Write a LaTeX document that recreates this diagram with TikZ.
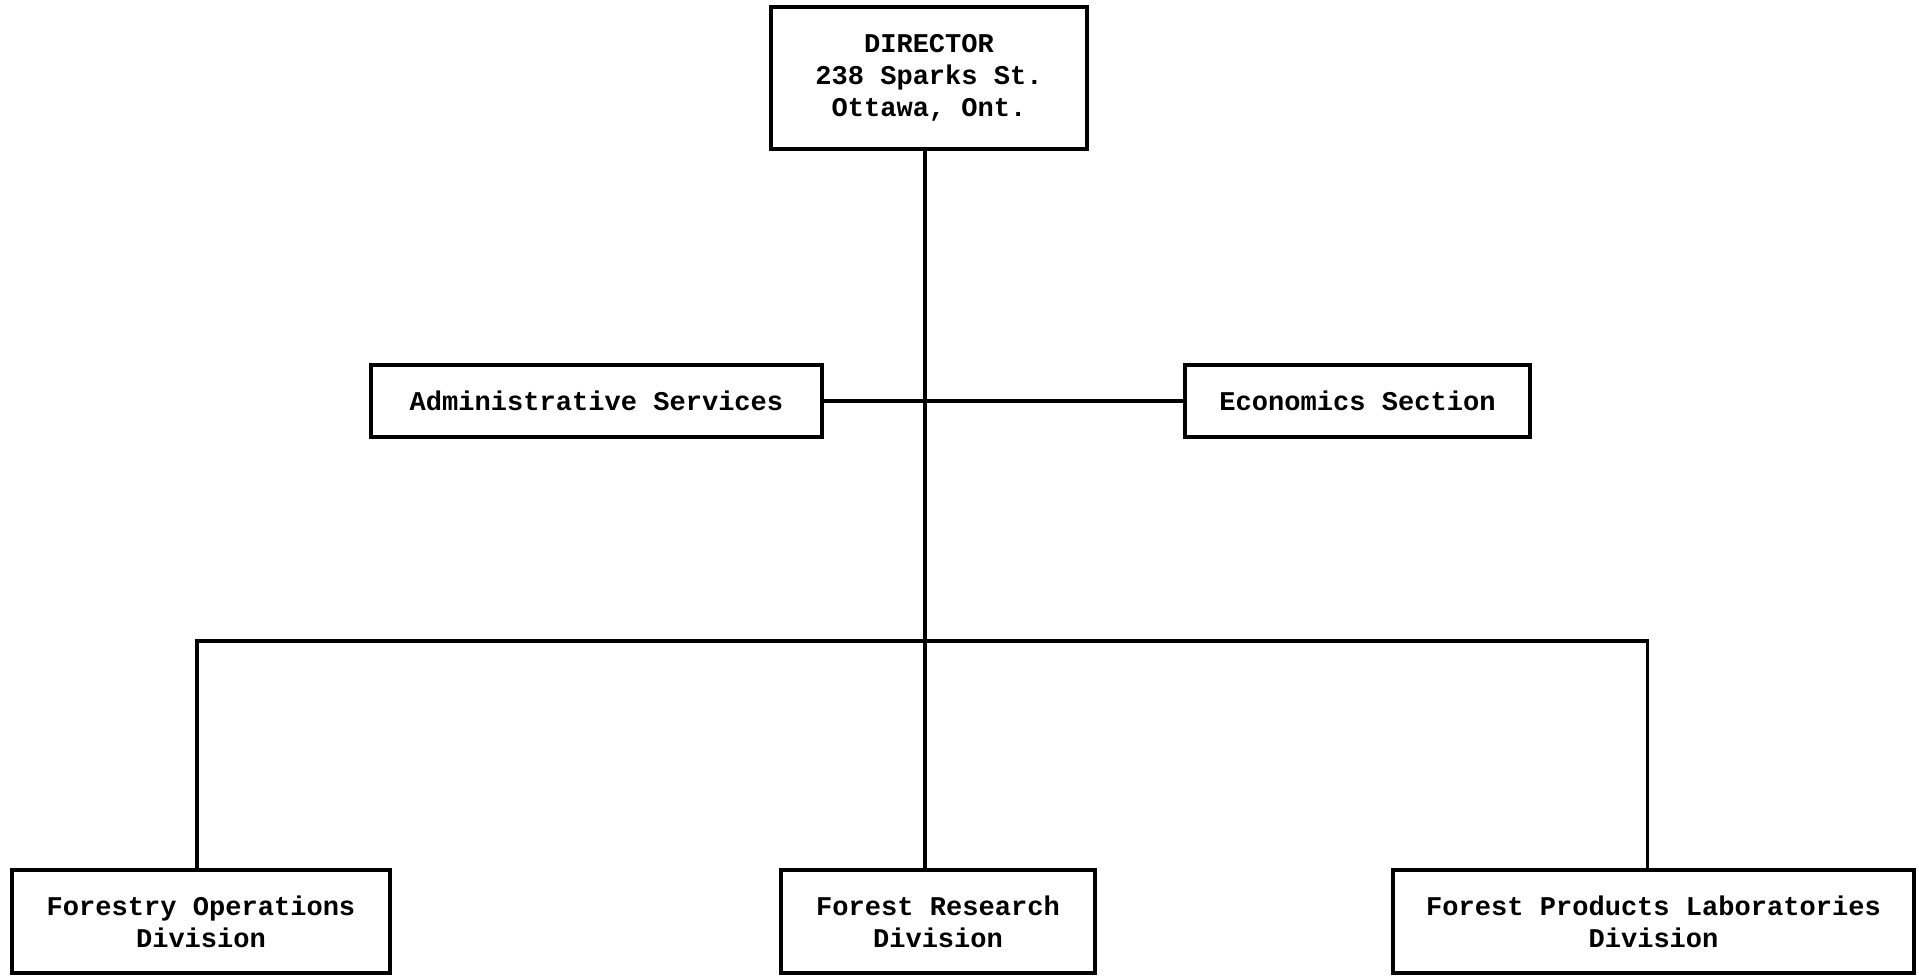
\documentclass[tikz,border=0pt]{standalone}
\usepackage{fontspec}
\setmonofont{Liberation Mono}
\tikzset{orgbox/.style={draw, line width=1.2pt, align=center, inner sep=0pt, font=\ttfamily\bfseries\fontsize{7.7}{9.1}\selectfont}}
\begin{document}
\begin{tikzpicture}
\useasboundingbox (0, 0) rectangle (19.19, -9.77);
\node[orgbox, minimum width=3.16cm, minimum height=1.42cm] (dir) at (9.29, -0.78) {DIRECTOR\\238 Sparks St.\\Ottawa, Ont.};
\node[orgbox, minimum width=4.51cm, minimum height=0.72cm] (adm) at (5.965, -4.01) {Administrative Services};
\node[orgbox, minimum width=3.45cm, minimum height=0.72cm] (eco) at (13.575, -4.01) {Economics Section};
\node[orgbox, minimum width=3.78cm, minimum height=1.03cm] (fo) at (2.01, -9.215) {Forestry Operations\\Division};
\node[orgbox, minimum width=3.14cm, minimum height=1.03cm] (fr) at (9.38, -9.215) {Forest Research\\Division};
\node[orgbox, minimum width=5.21cm, minimum height=1.03cm] (fpl) at (16.535, -9.215) {Forest Products Laboratories\\Division};
\coordinate (bar) at (9.25, -6.41);
\draw[line width=1pt] (adm.east) -- (eco.west);
\draw[line width=1pt] ([xshift=-0.04cm]dir.south) -- ([xshift=-0.04cm]dir.south |- fr.north);
\draw[line width=1pt] ([xshift=-0.04cm]fo.north) |- (bar) -| ([xshift=-0.06cm]fpl.north);
\end{tikzpicture}
\end{document}
